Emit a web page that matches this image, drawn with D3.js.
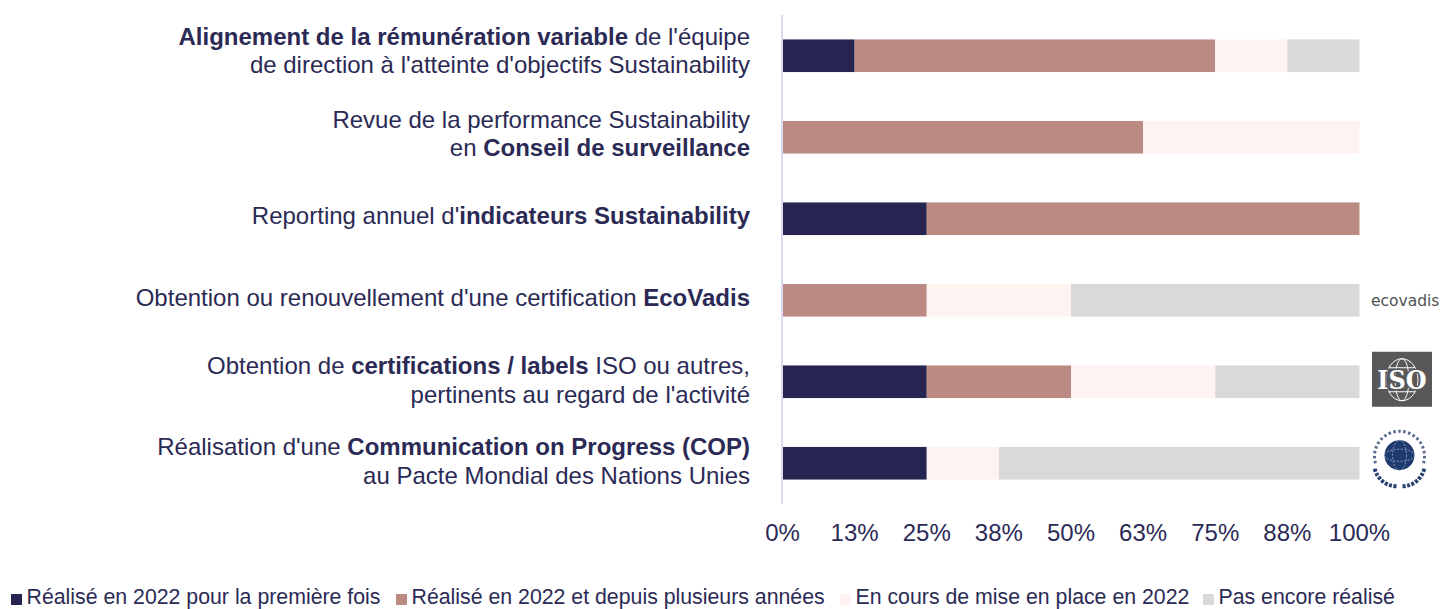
<!DOCTYPE html>
<html><head><meta charset="utf-8">
<script src="https://cdn.jsdelivr.net/npm/d3@7/dist/d3.min.js"></script>
<style>
html,body{margin:0;padding:0;background:#fff;overflow:hidden}
svg{display:block;font-family:"Liberation Sans",Arial,sans-serif}
</style></head><body>
<svg id="c" width="1442" height="609"></svg>
<script>
const categories = ["cat1","cat2","cat3","cat4","cat5","cat6"];
const labelLines = [
  [[["Alignement de la rémunération variable",1],[" de l'équipe",0]],[["de direction à l'atteinte d'objectifs Sustainability",0]]],
  [[["Revue de la performance Sustainability",0]],[["en ",0],["Conseil de surveillance",1]]],
  [[["Reporting annuel d'",0],["indicateurs Sustainability",1]]],
  [[["Obtention ou renouvellement d'une certification ",0],["EcoVadis",1]]],
  [[["Obtention de ",0],["certifications / labels",1],[" ISO ou autres,",0]],[["pertinents au regard de l'activité",0]]],
  [[["Réalisation d'une ",0],["Communication on Progress (COP)",1]],[["au Pacte Mondial des Nations Unies",0]]]
];
const seriesNames = ["Réalisé en 2022 pour la première fois","Réalisé en 2022 et depuis plusieurs années","En cours de mise en place en 2022","Pas encore réalisé"];
const s1 = [12.5,0,25,0,25,25];
const s2 = [62.5,62.5,75,25,25,0];
const s3 = [12.5,37.5,0,25,25,12.5];
const s4 = [12.5,0,0,50,25,62.5];
const colors = ["#262450","#bb8b83","#fff3f1","#d9d9d9"];
const tickValues = [0,12.5,25,37.5,50,62.5,75,87.5,100];
const tickLabels = ["0%","13%","25%","38%","50%","63%","75%","88%","100%"];
const textColor = "#2b2a55";

const svg = d3.select("#c");
const x = d3.scaleLinear().domain([0,100]).range([782.5,1359.5]);
const y = d3.scaleBand().domain(categories).range([15,504]).paddingInner(0.6).paddingOuter(0.3);

const rows = categories.map((c,i)=>({c,v:[s1[i],s2[i],s3[i],s4[i]]}));
const stacked = d3.stack().keys([0,1,2,3]).value((d,k)=>d.v[k])(rows);

svg.append("g").selectAll("g").data(stacked).join("g").attr("fill",(d,i)=>colors[i])
  .selectAll("rect").data(d=>d).join("rect")
  .attr("x",d=>x(d[0])).attr("width",d=>x(d[1])-x(d[0]))
  .attr("y",d=>y(d.data.c)).attr("height",y.bandwidth());

svg.append("line").attr("x1",x(0)-0.5).attr("x2",x(0)-0.5).attr("y1",15).attr("y2",504)
  .attr("stroke","#d9d9f0").attr("stroke-width",2);

const axis = d3.axisBottom(x).tickValues(tickValues).tickSize(0).tickFormat((d,i)=>tickLabels[i]);
const ax = svg.append("g").attr("transform","translate(-0.5,516)").call(axis);
ax.select(".domain").remove();
ax.selectAll("text").attr("font-size",24).attr("fill",textColor).attr("font-family","inherit").attr("y",8).attr("dy","0.71em");

// category labels
const lh = 28.5;
const labelShift = [-5,-3.5,-3,-2,-1.5,-2];
categories.forEach((c,i)=>{
  const lines = labelLines[i];
  const cy = y(c)+y.bandwidth()/2+labelShift[i];
  lines.forEach((ln,j)=>{
    const t = svg.append("text").attr("x",750).attr("text-anchor","end")
      .attr("y",cy+(j-(lines.length-1)/2)*lh+8)
      .attr("font-size",24).attr("fill",textColor);
    ln.forEach(p=>t.append("tspan").text(p[0]).attr("font-weight",p[1]?"bold":"normal"));
  });
});

// legend
const legendX = [11,396,840,1203];
seriesNames.forEach((n,i)=>{
  svg.append("rect").attr("x",legendX[i]).attr("y",594).attr("width",11).attr("height",11).attr("fill",colors[i]);
  svg.append("text").attr("x",legendX[i]+15.5).attr("y",604).attr("font-size",21.3).attr("fill",textColor).text(n);
});

// logos
const rowC = i=>y(categories[i])+y.bandwidth()/2;
svg.append("text").attr("x",1371).attr("y",rowC(3)+5.5)
  .attr("font-size",15.5).attr("fill","#4f5352").attr("font-family","'DejaVu Sans'").text("ecovadis");
const isoG = svg.append("g").attr("transform",`translate(1402,${rowC(4)-2})`);
isoG.append("rect").attr("x",-30).attr("y",-28).attr("width",60).attr("height",55).attr("fill","#58585a");
isoG.append("ellipse").attr("rx",16).attr("ry",21).attr("fill","none").attr("stroke","#fff").attr("stroke-width",1);
isoG.append("ellipse").attr("rx",7).attr("ry",21).attr("fill","none").attr("stroke","#fff").attr("stroke-width",1);
isoG.append("path").attr("d","M-13 -12H13M-13 12H13").attr("stroke","#fff").attr("stroke-width",1);
isoG.append("text").attr("y",9).attr("text-anchor","middle").attr("font-size",20).attr("font-weight","bold").attr("fill","#fff").attr("stroke","#58585a").attr("stroke-width",2.5).attr("paint-order","stroke").attr("font-family","'DejaVu Serif'").attr("transform","scale(1.2,1.3) translate(0,-2)").text("ISO");
const un = svg.append("g").attr("transform",`translate(1399.5,${rowC(5)-8})`);
un.append("circle").attr("r",15).attr("fill","#1f3a6e");
un.append("ellipse").attr("rx",7).attr("ry",15).attr("fill","none").attr("stroke","#9fb1cf").attr("stroke-width",.8).attr("stroke-dasharray","2 1.5");
un.append("ellipse").attr("rx",15).attr("ry",6).attr("fill","none").attr("stroke","#9fb1cf").attr("stroke-width",.8).attr("stroke-dasharray","2 1.5");
un.append("path").attr("d","M-24 8A25 25 0 1 1 24 8").attr("fill","none").attr("stroke","#5a6b8f").attr("stroke-width",3).attr("stroke-dasharray","2.5 2.5");
[-1,1].forEach(s=>{
  un.append("path").attr("d",`M${s*3} 31Q${s*20} 30 ${s*25} 13`).attr("fill","none").attr("stroke","#27406f").attr("stroke-width",4).attr("stroke-dasharray","3 1.5");
});
</script>
</body></html>
